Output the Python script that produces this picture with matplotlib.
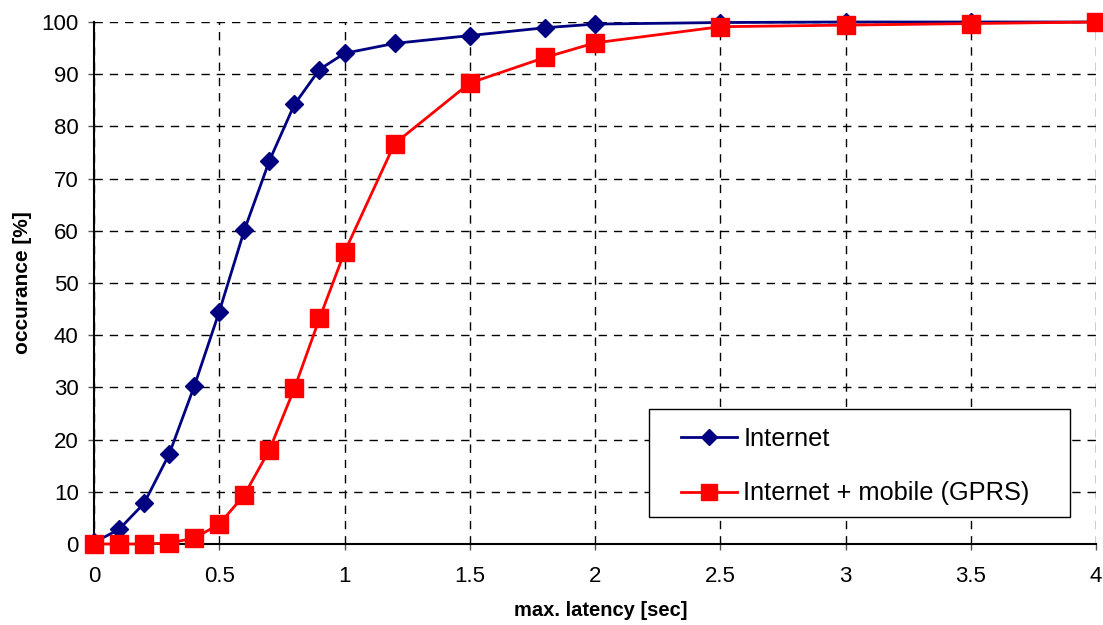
import matplotlib
matplotlib.use("Agg")
import matplotlib.pyplot as plt
from matplotlib.patches import Rectangle

x_vals = [0, 0.1, 0.2, 0.3, 0.4, 0.5, 0.6, 0.7, 0.8, 0.9, 1.0, 1.2, 1.5, 1.8, 2.0, 2.5, 3.0, 3.5, 4.0]
internet = [0.3, 2.8, 7.8, 17.2, 30.2, 44.5, 60.1, 73.4, 84.2, 90.9, 94.0, 95.9, 97.4, 98.9, 99.6, 99.9, 100.0, 100.0, 100.0]
gprs = [0.0, 0.0, 0.0, 0.2, 1.1, 3.8, 9.4, 18.0, 29.8, 43.2, 55.9, 76.7, 88.3, 93.2, 96.0, 99.1, 99.4, 99.7, 100.0]
x_ticks = [0, 0.5, 1, 1.5, 2, 2.5, 3, 3.5, 4]
x_tick_labels = ["0", "0.5", "1", "1.5", "2", "2.5", "3", "3.5", "4"]
y_ticks = list(range(0, 101, 10))

plt.rcParams['font.family'] = ['Liberation Sans', 'DejaVu Sans']

W, H = 1103, 625
L, R, T, B = 94, 1096, 22, 544
fig = plt.figure(figsize=(W/100, H/100), dpi=100)
ax = fig.add_axes([L/W, 1 - B/H, (R-L)/W, (B-T)/H])

def ax_x(px):
    return (px - L) / (R - L)

def ax_y(py):
    return (B - py) / (B - T)

ax.plot(x_vals, internet, color='#000080', lw=2, marker='D', ms=9.5,
        markeredgecolor='#000080', markerfacecolor='#000080', label='Internet', zorder=3, clip_on=False)
ax.plot(x_vals, gprs, color='#ff0000', lw=2, marker='s', ms=13,
        markeredgecolor='#ff0000', markerfacecolor='#ff0000', label='Internet + mobile (GPRS)', zorder=4, clip_on=False)

ax.set_xlim(0, 4)
ax.set_ylim(0, 100)
ax.set_xticks(x_ticks)
ax.set_xticklabels(x_tick_labels)
ax.set_yticks(y_ticks)
ax.tick_params(axis='both', labelsize=16, direction='out', length=4, color='#555555', width=1)
ax.tick_params(axis='x', pad=12)
ax.tick_params(axis='y', pad=7)
ax.grid(True, color='black', linestyle=(0, (6, 5)), linewidth=1)
ax.spines['top'].set_visible(False)
ax.spines['right'].set_visible(False)
ax.spines['left'].set_linewidth(1.5)
ax.spines['bottom'].set_linewidth(1.5)

ax.set_xlabel('max. latency [sec]', fontsize=14.5, fontweight='bold', labelpad=11)
ax.xaxis.set_label_coords(ax_x(601), ax_y(611), transform=ax.transAxes)
ax.xaxis.label.set_verticalalignment('center')
ax.set_ylabel('occurance [%]', fontsize=15, fontweight='bold', labelpad=7)

# legend frame
frame = Rectangle((ax_x(649), ax_y(517)), ax_x(1070) - ax_x(649), ax_y(409) - ax_y(517),
                  transform=ax.transAxes, facecolor='white', edgecolor='black', lw=1, zorder=5)
ax.add_patch(frame)

leg = ax.legend(loc='upper left', bbox_to_anchor=(ax_x(681), ax_y(427)),
                fontsize=18.3, frameon=False, handlelength=2.2, labelspacing=1.2,
                borderpad=0, handletextpad=0.25, borderaxespad=0, markerscale=0.9)
leg.set_zorder(6)

fig.savefig('out.png', dpi=100)
